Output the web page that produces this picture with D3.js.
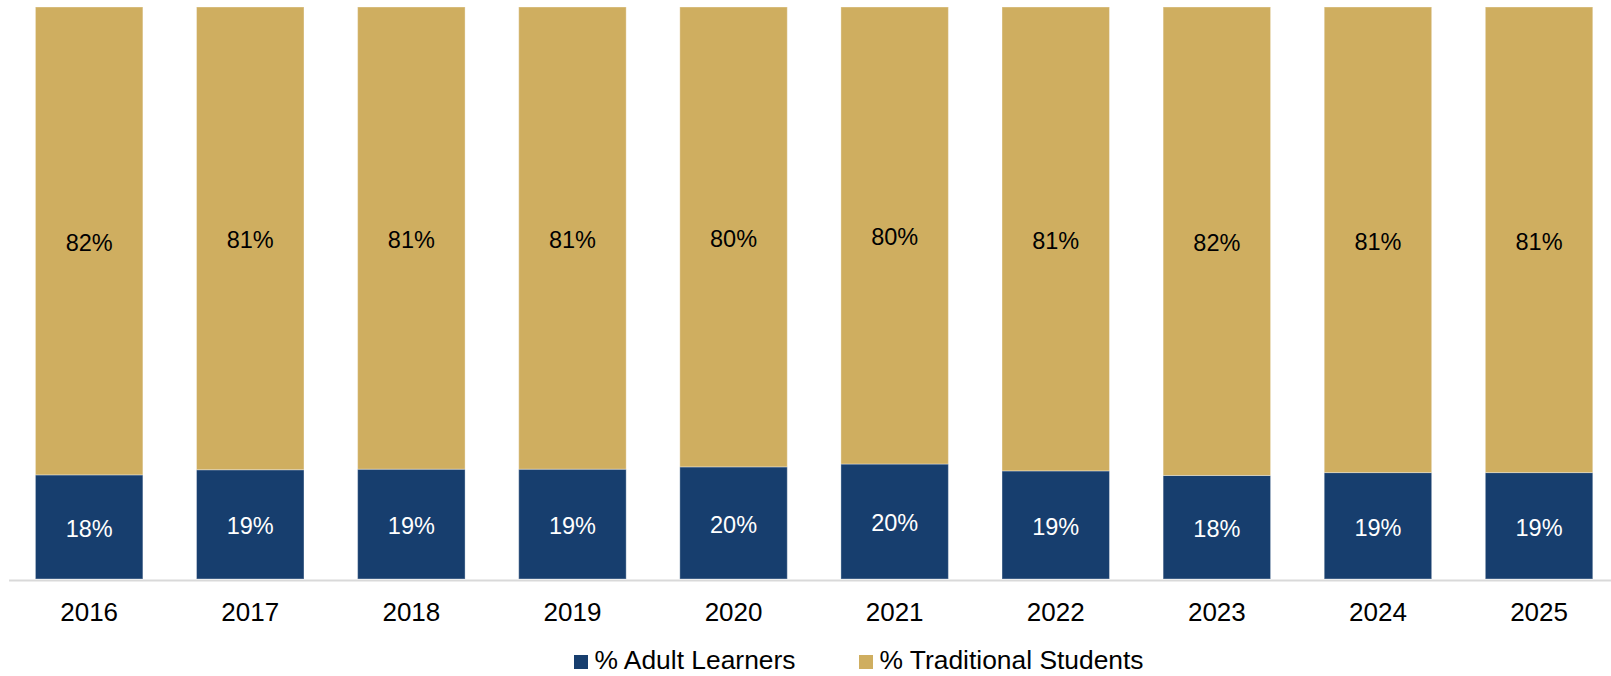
<!DOCTYPE html>
<html>
<head>
<meta charset="utf-8">
<script src="https://cdn.jsdelivr.net/npm/d3@7"></script>
<style>
    body { margin: 0; background: #fff; }
    svg { display: block; font-family: "Liberation Sans", Arial, sans-serif; }
</style>
</head>
<body>
<div id="chart"></div>
<script>
const years = ["2016", "2017", "2018", "2019", "2020", "2021", "2022", "2023", "2024", "2025"];
const adultLearners = [18.2, 19.1, 19.2, 19.2, 19.6, 20.1, 18.9, 18.1, 18.6, 18.6];
const traditionalStudents = [81.8, 80.9, 80.8, 80.8, 80.4, 79.9, 81.1, 81.9, 81.4, 81.4];
const seriesNames = ["% Adult Learners", "% Traditional Students"];

const width = 1611;
const height = 676;
const adultColor = "#173e6e";
const tradColor = "#cfae60";
const labelSize = 23.5;

const data = years.map((y, i) => ({
    year: y,
    adult: adultLearners[i],
    trad: traditionalStudents[i]
}));

const svg = d3.select("#chart")
    .append("svg")
        .attr("width", width)
        .attr("height", height);

const xScale = d3.scaleBand()
    .domain(years)
    .range([8.6, 1619.6])
    .paddingInner(0.333)
    .paddingOuter(0.1665);

const yScale = d3.scaleLinear()
    .domain([0, 100])
    .range([579, 7]);

const stacked = d3.stack().keys(["adult", "trad"])(data);
const colors = { adult: adultColor, trad: tradColor };
const labelColors = { adult: "#ffffff", trad: "#000000" };

const layers = svg.selectAll("g.layer")
    .data(stacked)
    .join("g")
        .attr("class", "layer")
        .attr("fill", d => colors[d.key]);

layers.selectAll("rect")
    .data(d => d)
    .join("rect")
        .attr("x", d => xScale(d.data.year))
        .attr("y", d => yScale(d[1]))
        .attr("width", xScale.bandwidth())
        .attr("height", d => yScale(d[0]) - yScale(d[1]))
        .attr("stroke", "rgba(255,255,255,0.35)")
        .attr("stroke-width", 1);

// value labels, centred in each segment
stacked.forEach(layer => {
    svg.append("g")
        .selectAll("text")
        .data(layer)
        .join("text")
            .attr("x", d => xScale(d.data.year) + xScale.bandwidth() / 2)
            .attr("y", d => (yScale(d[0]) + yScale(d[1])) / 2 + 0.358 * labelSize + 1.5)
            .attr("text-anchor", "middle")
            .attr("fill", labelColors[layer.key])
            .style("font-size", `${labelSize}px`)
            .text(d => `${Math.round(d.data[layer.key])}%`);
});

// x axis
const xAxis = svg.append("g")
    .attr("transform", `translate(0, ${580})`)
    .call(d3.axisBottom(xScale).tickSize(0).tickPadding(22.5));

xAxis.select(".domain")
    .attr("stroke", "#d9d9d9")
    .attr("stroke-width", 2);

xAxis.selectAll("text")
    .attr("fill", "#000")
    .style("font-size", "26px")
    .style("font-family", "'Liberation Sans', Arial, sans-serif");

// legend
const legendItems = [
    { name: seriesNames[0], color: adultColor, x: 574 },
    { name: seriesNames[1], color: tradColor, x: 859 }
];

const legend = svg.append("g")
    .selectAll("g")
    .data(legendItems)
    .join("g")
        .attr("transform", d => `translate(${d.x}, 655)`);

legend.append("rect")
    .attr("width", 14)
    .attr("height", 14)
    .attr("fill", d => d.color);

legend.append("text")
    .attr("x", 20.5)
    .attr("y", 14)
    .attr("fill", "#000")
    .style("font-size", "26.4px")
    .text(d => d.name);
</script>
</body>
</html>
